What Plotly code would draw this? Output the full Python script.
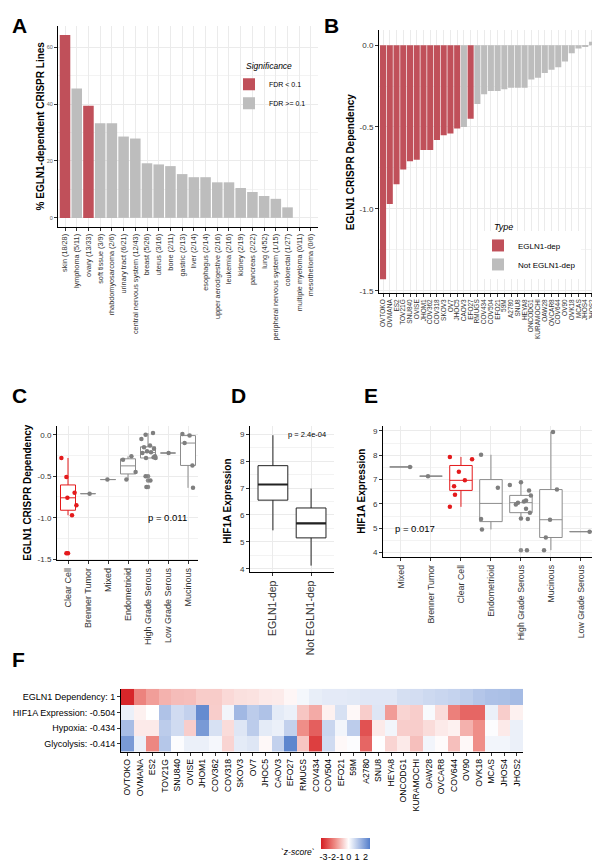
import numpy as np
import plotly.graph_objects as go

W, H = 600, 862
def fx(p): return p / W
def fy(p): return 1 - p / H

FONT = "Liberation Sans, Arial, Helvetica, sans-serif"
RED_BAR = "#C0505A"
GRAY_BAR = "#BDBDBD"
RED_PT = "#E41A1C"
GRAY_LINE = "#8C8C8C"
GRAY_PT = "#7F7F7F"
TICK_COL = "#333333"
GRID = "#EBEBEB"

# ---------------- Panel A data ----------------
tissue_labels = ["skin (18/28)", "lymphoma (5/11)", "ovary (13/33)", "soft tissue (3/9)",
                 "rhabdomyosarcoma (2/6)", "urinary tract (6/21)", "central nervous system (12/43)",
                 "breast (5/26)", "uterus (3/16)", "bone (2/11)", "gastric (2/13)", "liver (2/14)",
                 "esophagus (2/14)", "upper aerodigestive (2/16)", "leukemia (2/16)", "kidney (2/19)",
                 "pancreas (2/22)", "lung (4/52)", "peripheral nervous system (1/15)",
                 "colorectal (1/27)", "multiple myeloma (0/11)", "mesothelioma (0/6)"]
tissue_pct = [64.3, 45.5, 39.4, 33.3, 33.3, 28.6, 27.9, 19.2, 18.8, 18.2, 15.4, 14.3,
              14.3, 12.5, 12.5, 10.5, 9.1, 7.7, 6.7, 3.7, 0.0, 0.0]
tissue_sig = ["FDR < 0.1", "FDR >= 0.1", "FDR < 0.1"] + ["FDR >= 0.1"] * 19

# ---------------- Panel B data ----------------
cell_lines = ["OVTOKO", "OVMANA", "ES2", "TOV21G", "SNU840", "OVISE", "JHOM1", "COV362",
              "COV318", "SKOV3", "OV7", "JHOC5", "CAOV3", "EFO27", "RMUGS", "COV434",
              "COV504", "EFO21", "59M", "A2780", "SNU8", "HEYA8", "ONCODG1", "KURAMOCHI",
              "OAW28", "OVCAR8", "COV644", "OV90", "OVK18", "MCAS", "JHOS4", "JHOS2"]
egln1_dep = [-1.43, -0.97, -0.85, -0.76, -0.71, -0.70, -0.64, -0.64, -0.58, -0.55, -0.54,
             -0.51, -0.50, -0.45, -0.36, -0.30, -0.28, -0.28, -0.27, -0.26, -0.26, -0.26,
             -0.21, -0.20, -0.17, -0.15, -0.135, -0.10, -0.05, -0.02, -0.01, 0.02]
dep_type = (["EGLN1-dep"] * 12 + ["Not EGLN1-dep", "EGLN1-dep"] + ["Not EGLN1-dep"] * 18)

# ---------------- Panel C data ----------------
c_subtypes = ["Clear Cell", "Brenner Tumor", "Mixed", "Endometrioid",
              "High Grade Serous", "Low Grade Serous", "Mucinous"]
c_clear = [-0.28, -0.51, -0.70, -0.76, -0.85, -0.97, -1.43]
c_brenner = [-0.71]
c_mixed = [-0.54]
c_endo = [-0.26, -0.30, -0.45, -0.54]
c_hgs = [0.02, 0.0, -0.05, -0.13, -0.15, -0.17, -0.20, -0.21, -0.22, -0.26, -0.27,
         -0.28, -0.28, -0.50, -0.55, -0.63]
c_lgs = [-0.22]
c_muc = [0.01, -0.01, -0.10, -0.37, -0.64]
# horizontal jitter (style only)
cj_clear = [-0.33, -0.08, 0.33, -0.03, 0.42, 0.2, -0.08]
cj_brenner = [0.08]
cj_mixed = [-0.03]
cj_endo = [0.17, -0.25, 0.38, -0.08]
cj_hgs = [0.25, -0.12, -0.33, 0.1, -0.2, 0.3, -0.05, 0.15, -0.28, 0.35, 0.28, 0.38,
          -0.1, -0.12, 0.12, -0.08]
cj_lgs = [0.03]
cj_muc = [-0.28, 0.08, -0.17, 0.22, 0.25]

# ---------------- Panel D data (box summaries) ----------------
d_groups = ["EGLN1-dep", "Not EGLN1-dep"]
d_lower = [5.43, 4.12]
d_q1 = [6.55, 5.15]
d_median = [7.13, 5.69]
d_q3 = [7.83, 6.26]
d_upper = [8.96, 6.98]

# ---------------- Panel E data ----------------
e_subtypes = ["Mixed", "Brenner Tumor", "Clear Cell", "Endometrioid",
              "High Grade Serous", "Mucinous", "Low Grade Serous"]
e_mixed = [7.52]
e_brenner = [7.14]
e_clear = [7.93, 7.84, 7.32, 6.97, 6.73, 6.38, 5.88]
e_endo = [8.02, 6.66, 5.38, 4.95]
e_hgs = [6.89, 6.78, 6.55, 6.35, 6.14, 6.10, 6.05, 5.98, 5.80, 5.64, 5.40, 5.38, 4.10]
e_muc = [8.96, 6.59, 5.35, 4.62, 4.10]
e_lgs = [4.86]
ej_mixed = [0.3]
ej_brenner = [-0.1]
ej_clear = [-0.37, 0.37, -0.07, 0.13, -0.23, -0.2, -0.37]
ej_endo = [-0.33, 0.23, -0.33, -0.3]
ej_hgs = [0.0, -0.37, 0.27, 0.33, 0.17, 0.1, -0.1, -0.17, 0.17, 0.3, 0.0, 0.23, 0.2]
ej_muc = [0.07, 0.2, -0.03, -0.17, -0.23]
ej_lgs = [0.29]

# ---------------- Panel F data (z-scores) ----------------
hm_rows = ["EGLN1 Dependency: 1", "HIF1A Expression: -0.504", "Hypoxia: -0.434", "Glycolysis: -0.414"]
hm_dep = [-3.18, -1.75, -1.37, -1.09, -0.94, -0.91, -0.72, -0.72, -0.53, -0.44, -0.41, -0.31,
          -0.28, -0.12, 0.16, 0.34, 0.41, 0.41, 0.44, 0.47, 0.47, 0.47, 0.63, 0.66, 0.75,
          0.81, 0.86, 0.97, 1.12, 1.22, 1.25, 1.34]
hm_hif1a = [0.3, -0.2, 0.0, 1.2, 0.7, 0.9, 2.3, -0.7, 0.2, 1.4, 1.0, 1.2, 0.4, 0.3, -0.8,
            -1.2, -0.2, 0.6, -0.1, -0.7, 0.5, -1.4, -0.6, -0.7, 0.1, -0.5, -1.8, -2.2, -2.2,
            0.3, -0.7, -0.2]
hm_hypoxia = [1.3, -0.3, -0.3, 1.0, 0.7, -0.7, 2.0, 0.6, -0.5, 0.5, 1.0, 0.4, 0.3, 0.9,
              -1.6, -2.3, 0.8, 0.2, 1.0, -2.5, -0.3, 0.2, -0.7, -0.7, -0.5, -0.3, -0.2,
              -1.1, -1.6, 0.05, -0.3, 0.3]
hm_glycolysis = [2.0, 0.3, -1.7, 1.1, 0.05, 0.3, 0.3, 0.15, -0.6, 0.4, 0.5, -0.1, 0.9, 2.4,
                 -0.8, -2.8, 0.7, -0.1, 0.05, -2.2, 0.02, -0.6, -0.3, -0.9, 0.2, -0.05,
                 -0.9, -0.1, -1.6, 0.2, 0.2, 0.3]
zscore_ticks = [-3, -2, -1, 0, 1, 2]


def box_stats(v):
    v = np.asarray(v, float)
    q1, med, q3 = np.percentile(v, [25, 50, 75])
    iqr = q3 - q1
    lo_f, hi_f = q1 - 1.5 * iqr, q3 + 1.5 * iqr
    lo = v[v >= lo_f].min()
    hi = v[v <= hi_f].max()
    out = v[(v < lo_f) | (v > hi_f)]
    return q1, med, q3, lo, hi, out


fig = go.Figure()

# ---- Panel A bars ----
for sig, col in [("FDR < 0.1", RED_BAR), ("FDR >= 0.1", GRAY_BAR)]:
    idx = [i for i, s in enumerate(tissue_sig) if s == sig]
    fig.add_trace(go.Bar(x=idx, y=[tissue_pct[i] for i in idx], width=0.9,
                         marker=dict(color=col, line=dict(width=0)), name=sig,
                         xaxis="x", yaxis="y", legend="legend"))

# ---- Panel B bars ----
for t, col in [("EGLN1-dep", RED_BAR), ("Not EGLN1-dep", GRAY_BAR)]:
    idx = [i for i, s in enumerate(dep_type) if s == t]
    fig.add_trace(go.Bar(x=idx, y=[egln1_dep[i] for i in idx], width=0.9,
                         marker=dict(color=col, line=dict(width=0)), name=t,
                         xaxis="x2", yaxis="y2", legend="legend2"))


def add_boxes(groups, jitters, names, xa, ya, red_name):
    for i, (vals, jit, nm) in enumerate(zip(groups, jitters, names)):
        lc = RED_PT if nm == red_name else GRAY_LINE
        pc = RED_PT if nm == red_name else GRAY_PT
        q1, med, q3, lo, hi, out = box_stats(vals)
        fig.add_trace(go.Box(x=[i], q1=[q1], median=[med], q3=[q3], lowerfence=[lo],
                             upperfence=[hi], width=0.75, whiskerwidth=0, boxpoints=False,
                             fillcolor="white", line=dict(color=lc, width=1),
                             showlegend=False, xaxis=xa, yaxis=ya, hoverinfo="skip"))
        if len(out):
            fig.add_trace(go.Scatter(x=[i] * len(out), y=list(out), mode="markers",
                                     marker=dict(color=lc, size=4.5), showlegend=False,
                                     xaxis=xa, yaxis=ya, hoverinfo="skip"))
        fig.add_trace(go.Scatter(x=[i + j for j in jit], y=vals, mode="markers",
                                 marker=dict(color=pc, size=4.5), showlegend=False,
                                 xaxis=xa, yaxis=ya, hoverinfo="skip"))


add_boxes([c_clear, c_brenner, c_mixed, c_endo, c_hgs, c_lgs, c_muc],
          [cj_clear, cj_brenner, cj_mixed, cj_endo, cj_hgs, cj_lgs, cj_muc],
          c_subtypes, "x3", "y3", "Clear Cell")

# ---- Panel D ----
fig.add_trace(go.Box(x=[0, 1], q1=d_q1, median=d_median, q3=d_q3, lowerfence=d_lower,
                     upperfence=d_upper, width=0.78, whiskerwidth=0, boxpoints=False,
                     fillcolor="white", line=dict(color="#222222", width=1),
                     showlegend=False, xaxis="x4", yaxis="y4", hoverinfo="skip"))
mx, my = [], []
for i, m in enumerate(d_median):
    mx += [i - 0.39, i + 0.39, None]
    my += [m, m, None]
fig.add_trace(go.Scatter(x=mx, y=my, mode="lines", line=dict(color="#222222", width=2.2),
                         showlegend=False, xaxis="x4", yaxis="y4", hoverinfo="skip"))

# ---- Panel E ----
add_boxes([e_mixed, e_brenner, e_clear, e_endo, e_hgs, e_muc, e_lgs],
          [ej_mixed, ej_brenner, ej_clear, ej_endo, ej_hgs, ej_muc, ej_lgs],
          e_subtypes, "x5", "y5", "Clear Cell")

# ---- Panel F heatmap ----
zmin, zmax = -3.3, 2.55
def zf(z): return (z - zmin) / (zmax - zmin)
cscale = [[0.0, "rgb(213,30,35)"], [zf(-1.65), "rgb(238,138,132)"], [zf(0), "rgb(255,255,255)"],
          [zf(1.3), "rgb(168,189,229)"], [1.0, "rgb(84,126,203)"]]
fig.add_trace(go.Heatmap(z=[hm_dep, hm_hif1a, hm_hypoxia, hm_glycolysis],
                         x=list(range(len(cell_lines))), y=list(range(len(hm_rows))),
                         colorscale=cscale, zmin=zmin, zmax=zmax, xaxis="x6", yaxis="y6",
                         hoverinfo="skip",
                         colorbar=dict(orientation="h", x=fx(337.5), xanchor="center",
                                       y=fy(834), yanchor="top", len=49, lenmode="pixels",
                                       thickness=11, thicknessmode="pixels", xpad=0, ypad=0,
                                       outlinewidth=0, tickvals=zscore_ticks,
                                       ticktext=[str(t) for t in zscore_ticks], ticks="",
                                       tickangle=0, ticklabeloverflow="allow",
                                       tickfont=dict(size=9, color="black", family=FONT))))


def axis(domain, rng, **kw):
    d = dict(domain=domain, range=rng, showline=True, linecolor="black", linewidth=1,
             ticks="outside", ticklen=3, tickcolor=TICK_COL, tickwidth=0.8,
             showgrid=True, gridcolor=GRID, gridwidth=0.8, zeroline=False,
             tickfont=dict(size=8, color=TICK_COL, family=FONT), fixedrange=True)
    d.update(kw)
    return d


def xd(a, b): return [fx(a), fx(b)]
def yd(top, bot): return [fy(bot), fy(top)]


layout_axes = dict(
    xaxis=axis(xd(50, 310), [-0.6, 21.6], anchor="y", tickmode="array",
               tickvals=list(range(len(tissue_labels))), ticktext=tissue_labels, tickangle=-90,
               tickfont=dict(size=7.3, color=TICK_COL, family=FONT)),
    yaxis=axis(yd(18, 220), [-3.2, 67.5], anchor="x", tickmode="array",
               tickvals=[0, 20, 40, 60], tickfont=dict(size=5.5, color="#666666", family=FONT),
               minor=dict(tickmode="array", tickvals=[10, 30, 50], showgrid=True,
                          gridcolor="#F3F3F3", gridwidth=0.5, ticks="")),
    xaxis2=axis(xd(371, 588), [-0.6, 31.6], anchor="y2", tickmode="array",
                tickvals=list(range(len(cell_lines))), ticktext=cell_lines, tickangle=-90,
                tickfont=dict(size=6.5, color=TICK_COL, family=FONT)),
    yaxis2=axis(yd(22, 286), [-1.512, 0.093], anchor="x2", tickmode="array",
                tickvals=[0, -0.5, -1.0, -1.5], ticktext=["0.0", "-0.5", "-1.0", "-1.5"],
                minor=dict(tickmode="array", tickvals=[-0.25, -0.75, -1.25], showgrid=True,
                           gridcolor="#F3F3F3", gridwidth=0.5, ticks="")),
    xaxis3=axis(xd(49, 190), [-0.55, 6.5], anchor="y3", tickmode="array",
                tickvals=list(range(len(c_subtypes))), ticktext=c_subtypes, tickangle=-90,
                tickfont=dict(size=9, color=TICK_COL, family=FONT)),
    yaxis3=axis(yd(420, 555), [-1.515, 0.105], anchor="x3", tickmode="array",
                tickvals=[0, -0.5, -1.0, -1.5], ticktext=["0.0", "-0.5", "-1.0", "-1.5"],
                minor=dict(tickmode="array", tickvals=[-0.25, -0.75, -1.25], showgrid=True,
                           gridcolor="#F3F3F3", gridwidth=0.5, ticks="")),
    xaxis4=axis(xd(242, 326), [-0.6, 1.6], anchor="y4", tickmode="array",
                tickvals=[0, 1], ticktext=d_groups, tickangle=-90,
                tickfont=dict(size=10.5, color=TICK_COL, family=FONT)),
    yaxis4=axis(yd(420, 567), [3.87, 9.3], anchor="x4", tickmode="array",
                tickvals=[4, 5, 6, 7, 8, 9],
                minor=dict(tickmode="array", tickvals=[4.5, 5.5, 6.5, 7.5, 8.5], showgrid=True,
                           gridcolor="#F3F3F3", gridwidth=0.5, ticks="")),
    xaxis5=axis(xd(375, 590), [-0.6, 6.57], anchor="y5", tickmode="array",
                tickvals=list(range(len(e_subtypes))), ticktext=e_subtypes, tickangle=-90,
                tickfont=dict(size=8.8, color=TICK_COL, family=FONT)),
    yaxis5=axis(yd(420, 552), [3.8, 9.2], anchor="x5", tickmode="array",
                tickvals=[4, 5, 6, 7, 8, 9],
                minor=dict(tickmode="array", tickvals=[4.5, 5.5, 6.5, 7.5, 8.5], showgrid=True,
                           gridcolor="#F3F3F3", gridwidth=0.5, ticks="")),
    xaxis6=axis(xd(113, 515), [-0.5, 31.5], anchor="y6", tickmode="array",
                tickvals=list(range(len(cell_lines))), ticktext=cell_lines, tickangle=-90,
                showgrid=False, tickfont=dict(size=8.6, color="black", family=FONT)),
    yaxis6=axis(yd(684, 747), [3.5, -0.5], anchor="x6", tickmode="array",
                tickvals=list(range(len(hm_rows))), ticktext=hm_rows, showgrid=False,
                tickfont=dict(size=9, color="black", family=FONT)),
)

ann = []
def letter(t, x, y):
    ann.append(dict(text=t, x=fx(x), y=fy(y), xref="paper", yref="paper", showarrow=False,
                    xanchor="left", yanchor="top",
                    font=dict(size=21, family=FONT, color="black", weight="bold")))
for t, x, y in [("A", 2, 4), ("B", 314, 4), ("C", 2, 376), ("D", 221, 376), ("E", 354, 376), ("F", 2, 641)]:
    letter(t, x, y)

def ytitle(t, x, y):
    ann.append(dict(text=t, x=fx(x), y=fy(y), xref="paper", yref="paper", showarrow=False,
                    textangle=-90, xanchor="center", yanchor="middle",
                    font=dict(size=10, family=FONT, color="black", weight="bold")))
ytitle("% EGLN1-dependent CRISPR Lines", 32, 119)
ytitle("EGLN1 CRISPR Dependency", 342, 154)
ytitle("EGLN1 CRISPR Dependency", 20, 487)
ytitle("HIF1A Expression", 220, 495)
ytitle("HIF1A Expression", 354, 486)

ann.append(dict(text="p = 0.011", x=4.95, y=-1.0, xref="x3", yref="y3", showarrow=False,
                font=dict(size=9.5, family=FONT, color="black")))
ann.append(dict(text="p = 2.4e-04", x=0.89, y=9.0, xref="x4", yref="y4", showarrow=False,
                font=dict(size=7.5, family=FONT, color="black")))
ann.append(dict(text="p = 0.017", x=0.48, y=5.0, xref="x5", yref="y5", showarrow=False,
                font=dict(size=9.5, family=FONT, color="black")))
ann.append(dict(text="Significance", x=fx(236), y=fy(58), xref="paper", yref="paper",
                showarrow=False, xanchor="left", yanchor="middle",
                font=dict(size=8.5, family=FONT, color="black", style="italic")))
ann.append(dict(text="Type", x=fx(484), y=fy(220), xref="paper", yref="paper",
                showarrow=False, xanchor="left", yanchor="middle",
                font=dict(size=9, family=FONT, color="black", style="italic")))
ann.append(dict(text="`z-score`", x=fx(309), y=fy(848), xref="paper", yref="paper",
                showarrow=False, xanchor="right", yanchor="middle",
                font=dict(size=8.5, family=FONT, color="black", style="italic")))

fig.update_layout(
    width=W, height=H, margin=dict(l=0, r=0, t=0, b=0),
    paper_bgcolor="white", plot_bgcolor="white", barmode="overlay", hovermode=False,
    font=dict(family=FONT, size=8, color="black"),
    legend=dict(x=fx(221), y=fy(62), xanchor="left", yanchor="top",
                font=dict(size=7, family=FONT, color="black"), bgcolor="rgba(255,255,255,0)",
                borderwidth=0, traceorder="normal", itemclick=False, itemdoubleclick=False),
    legend2=dict(x=fx(470), y=fy(224), xanchor="left", yanchor="top",
                 font=dict(size=8, family=FONT, color="black"), bgcolor="white",
                 borderwidth=0, traceorder="normal", itemclick=False, itemdoubleclick=False),
    annotations=ann,
    **layout_axes,
)

fig.write_html("out.html")
